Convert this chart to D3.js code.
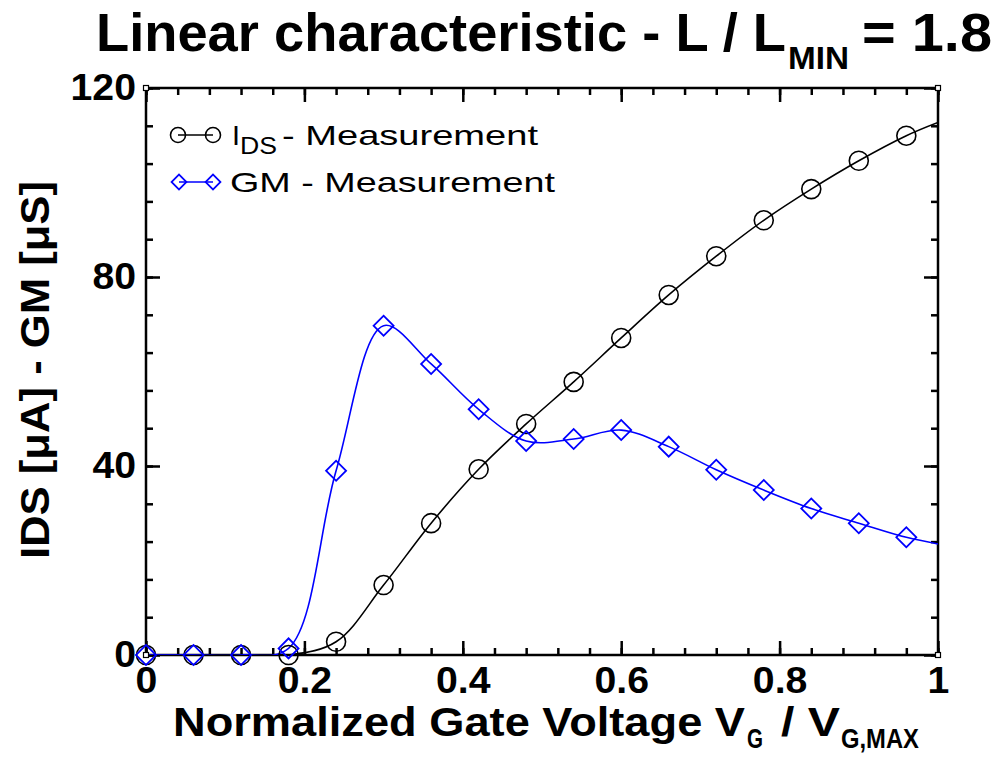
<!DOCTYPE html>
<html>
<head>
<meta charset="utf-8">
<script src="https://cdn.jsdelivr.net/npm/d3@7"></script>
<style>
body { margin: 0; background: #fff; }
text { font-family: "Liberation Sans", Arial, sans-serif; }
</style>
</head>
<body>
<svg id="chart" width="999" height="760"></svg>
<script>
// measured points (normalized gate voltage)
var vg  = [0, 0.06, 0.12, 0.18, 0.24, 0.30, 0.36, 0.42, 0.48, 0.54, 0.60, 0.66, 0.72, 0.78, 0.84, 0.90, 0.96];
var ids = [0, 0, 0, 0, 2.8, 14.8, 27.9, 39.3, 48.9, 57.8, 67.1, 76.2, 84.4, 92.0, 98.6, 104.6, 109.9];
var gm  = [0, 0, 0, 1.4, 39.0, 69.7, 61.6, 52.0, 45.3, 45.7, 47.6, 44.1, 39.2, 34.9, 31.0, 27.9, 24.9];
// where the fitted lines end at the right border
var vgEnd = 1, idsEnd = 112.7, gmEnd = 23.5;

var xTicks = [0, 0.2, 0.4, 0.6, 0.8, 1];
var xTickLabels = ["0", "0.2", "0.4", "0.6", "0.8", "1"];
var yTicks = [0, 40, 80, 120];
var yTickLabels = ["0", "40", "80", "120"];

var plot = {left: 146, right: 938, top: 88, bottom: 655};

var svg = d3.select("#chart");

var x = d3.scaleLinear().domain([0, 1]).range([plot.left, plot.right]);
var y = d3.scaleLinear().domain([0, 120]).range([plot.bottom, plot.top]);

var xMinor = d3.range(0, 1.0001, 0.04);
var yMinor = d3.range(0, 120.001, 8);

// stretch text horizontally (the original font is wider than Liberation)
function stretch(sel, k) {
	sel.each(function() {
		var w = this.getComputedTextLength();
		d3.select(this).attr("textLength", w * k).attr("lengthAdjust", "spacingAndGlyphs");
	});
}

function styleAxis(g) {
	g.select(".domain").remove();
	g.selectAll("line").attr("stroke", "#000").attr("stroke-width", 2.5);
}

// minor ticks on all four sides (inward)
svg.append("g").attr("transform", "translate(0," + plot.bottom + ")")
	.call(d3.axisBottom(x).tickValues(xMinor).tickSize(-7).tickFormat(""))
	.call(styleAxis);
svg.append("g").attr("transform", "translate(0," + plot.top + ")")
	.call(d3.axisTop(x).tickValues(xMinor).tickSize(-7).tickFormat(""))
	.call(styleAxis);
svg.append("g").attr("transform", "translate(" + plot.left + ",0)")
	.call(d3.axisLeft(y).tickValues(yMinor).tickSize(-7).tickFormat(""))
	.call(styleAxis);
svg.append("g").attr("transform", "translate(" + plot.right + ",0)")
	.call(d3.axisRight(y).tickValues(yMinor).tickSize(-7).tickFormat(""))
	.call(styleAxis);

// major ticks + labels
var xAxis = svg.append("g").attr("transform", "translate(0," + plot.bottom + ")")
	.call(d3.axisBottom(x).tickValues(xTicks).tickSize(-14).tickPadding(12)
		.tickFormat(function(d, i) { return xTickLabels[i]; }))
	.call(styleAxis);
svg.append("g").attr("transform", "translate(0," + plot.top + ")")
	.call(d3.axisTop(x).tickValues(xTicks).tickSize(-14).tickFormat(""))
	.call(styleAxis);
var yAxis = svg.append("g").attr("transform", "translate(" + plot.left + ",0)")
	.call(d3.axisLeft(y).tickValues(yTicks).tickSize(-14).tickPadding(10)
		.tickFormat(function(d, i) { return yTickLabels[i]; }))
	.call(styleAxis);
svg.append("g").attr("transform", "translate(" + plot.right + ",0)")
	.call(d3.axisRight(y).tickValues(yTicks).tickSize(-14).tickFormat(""))
	.call(styleAxis);

xAxis.selectAll("text").attr("font-size", 37).attr("font-weight", "bold")
	.attr("font-family", "Liberation Sans, Arial, sans-serif").attr("fill", "#000");
yAxis.selectAll("text").attr("font-size", 37).attr("font-weight", "bold")
	.attr("font-family", "Liberation Sans, Arial, sans-serif").attr("fill", "#000");
xAxis.selectAll("text").call(stretch, 1.06);
yAxis.selectAll("text").call(stretch, 1.06);

// frame
svg.append("rect")
	.attr("x", plot.left).attr("y", plot.top)
	.attr("width", plot.right - plot.left).attr("height", plot.bottom - plot.top)
	.attr("fill", "none").attr("stroke", "#000").attr("stroke-width", 2.5);

// clip for the curves
svg.append("clipPath").attr("id", "clip")
	.append("rect")
	.attr("x", plot.left).attr("y", plot.top)
	.attr("width", plot.right - plot.left).attr("height", plot.bottom - plot.top);

var idsLine = vg.map(function(v, i) { return [v, ids[i]]; }).concat([[vgEnd, idsEnd]]);
var gmLine = vg.map(function(v, i) { return [v, gm[i]]; }).concat([[vgEnd, gmEnd]]);

var line = d3.line()
	.x(function(d) { return x(d[0]); })
	.y(function(d) { return y(d[1]); })
	.curve(d3.curveCatmullRom.alpha(0.5));

var curves = svg.append("g").attr("clip-path", "url(#clip)");
curves.append("path").attr("d", line(idsLine))
	.attr("fill", "none").attr("stroke", "#000").attr("stroke-width", 1.6);
curves.append("path").attr("d", line(gmLine))
	.attr("fill", "none").attr("stroke", "#0000ff").attr("stroke-width", 1.6);

// markers
var diamond = d3.symbol().type(d3.symbolSquare).size(200);

svg.append("g").selectAll("circle")
	.data(vg)
	.enter()
	.append("circle")
	.attr("cx", function(d) { return x(d); })
	.attr("cy", function(d, i) { return y(ids[i]); })
	.attr("r", 9.5)
	.attr("fill", "none").attr("stroke", "#000").attr("stroke-width", 1.6);

svg.append("g").selectAll("path")
	.data(vg)
	.enter()
	.append("path")
	.attr("d", diamond)
	.attr("transform", function(d, i) { return "translate(" + x(d) + "," + y(gm[i]) + ") rotate(45)"; })
	.attr("fill", "none").attr("stroke", "#0000ff").attr("stroke-width", 1.8);

// little open squares at the frame corners
var corners = [[plot.left, plot.top], [plot.right, plot.top], [plot.right, plot.bottom], [plot.left, plot.bottom]];
svg.append("g").selectAll("rect")
	.data(corners)
	.enter()
	.append("rect")
	.attr("x", function(d) { return d[0] - 2.5; })
	.attr("y", function(d) { return d[1] - 2.5; })
	.attr("width", 5).attr("height", 5)
	.attr("fill", "#fff").attr("stroke", "#000").attr("stroke-width", 1.2);

// legend
var legend = svg.append("g");
legend.append("line").attr("x1", 178).attr("x2", 213).attr("y1", 135).attr("y2", 135)
	.attr("stroke", "#000").attr("stroke-width", 1.6);
legend.selectAll("circle.lg").data([178, 213]).enter().append("circle")
	.attr("cx", function(d) { return d; }).attr("cy", 135).attr("r", 7.5)
	.attr("fill", "none").attr("stroke", "#000").attr("stroke-width", 1.6);
legend.append("line").attr("x1", 179).attr("x2", 213).attr("y1", 182).attr("y2", 182)
	.attr("stroke", "#0000ff").attr("stroke-width", 1.6);
legend.selectAll("path.lg").data([179, 213]).enter().append("path")
	.attr("d", d3.symbol().type(d3.symbolSquare).size(110))
	.attr("transform", function(d) { return "translate(" + d + ",182) rotate(45)"; })
	.attr("fill", "none").attr("stroke", "#0000ff").attr("stroke-width", 1.8);

function label(g, txt, xPos, yPos, size, len, weight) {
	return g.append("text")
		.attr("x", xPos).attr("y", yPos)
		.attr("font-size", size)
		.attr("font-weight", weight || "normal")
		.attr("textLength", len).attr("lengthAdjust", "spacingAndGlyphs")
		.attr("fill", "#000")
		.text(txt);
}

label(legend, "I", 232, 145, 28, 8);
label(legend, "DS", 240, 154, 23, 37);
label(legend, "- Measurement", 282, 145, 28, 256);
label(legend, "GM - Measurement", 230, 192, 28, 325);

// title
label(svg, "Linear characteristic - L / L", 96, 51, 53, 690, "bold");
label(svg, "MIN", 788, 69, 32, 61, "bold");
label(svg, "= 1.8", 862, 51, 53, 130, "bold");

// x axis title
label(svg, "Normalized Gate Voltage V", 173, 736, 40, 572, "bold");
label(svg, "G", 747, 748, 27, 16, "bold");
label(svg, "/ V", 781, 736, 40, 59, "bold");
label(svg, "G,MAX", 841, 748, 27, 78, "bold");

// y axis title
svg.append("text")
	.attr("transform", "translate(49,370) rotate(-90)")
	.attr("text-anchor", "middle")
	.attr("font-size", 41)
	.attr("font-weight", "bold")
	.attr("textLength", 378).attr("lengthAdjust", "spacingAndGlyphs")
	.text("IDS [\u03bcA] - GM [\u03bcS]");
</script>
</body>
</html>
